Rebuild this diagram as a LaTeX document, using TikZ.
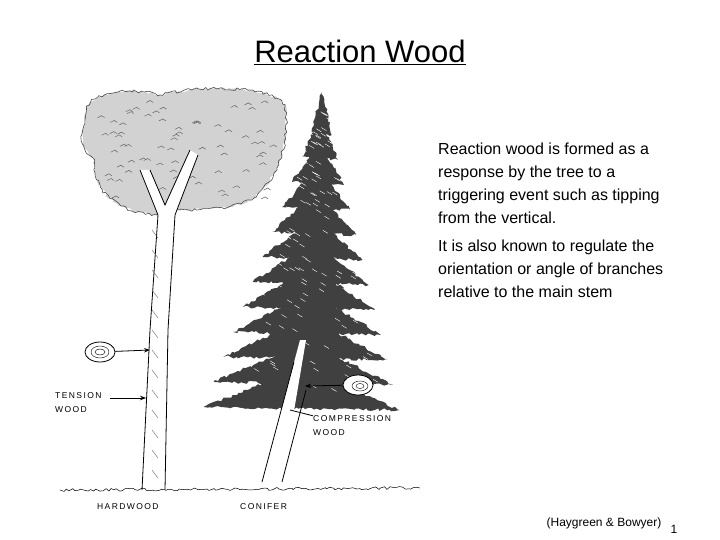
\documentclass[tikz,border=0pt]{standalone}
\usepackage{fontspec}
\setmainfont{Liberation Sans}
\usetikzlibrary{arrows.meta,shapes.geometric,decorations.pathmorphing}
\begin{document}
\begin{tikzpicture}[x=1pt,y=-1pt,
  body/.style={anchor=north west,font=\fontsize{16}{23}\selectfont,align=left,inner sep=0},
  lbl/.style={font=\fontsize{8.5}{14}\selectfont,align=left,inner sep=0,anchor=west},
  ring/.style={draw,fill=white,line width=0.8pt,ellipse,minimum width=30pt,minimum height=20pt},
  arr/.style={-{Stealth[length=6pt]},line width=0.8pt},
  rough/.style={decorate,decoration={random steps,segment length=3pt,amplitude=1.5pt}}]
\useasboundingbox (0,0) rectangle (720,540);
\node (title) at (360,52) {\fontsize{31}{34}\selectfont\underline{Reaction Wood}};
\node[body] (p1) at (438,143) {Reaction wood is formed as a\\response by the tree to a\\triggering event such as tipping\\from the vertical.};
\node[body] (p2) at (438,240) {It is also known to regulate the\\orientation or angle of branches\\relative to the main stem};
% hardwood canopy
\def\canopy{(85,120) .. controls (80,95) and (120,85) .. (160,95) .. controls (200,85) and (270,85) .. (285,105) .. controls (290,140) and (280,180) .. (250,200) .. controls (220,215) and (180,205) .. (160,215) .. controls (120,215) and (90,190) .. (95,160) .. controls (80,150) and (80,135) .. (85,120) -- cycle}
\fill[gray!35,rough] \canopy;
\draw[black!70,rough,line width=0.6pt] \canopy;
\foreach \i in {1,...,70}{\pgfmathsetmacro\xx{95+rnd*180}\pgfmathsetmacro\yy{100+rnd*100}
  \draw[black!60,line width=0.5pt] (\xx,\yy) -- ++(4,-2) -- ++(3,2);}
% hardwood trunk
\fill[white] (142,490) -- (150,330) -- (158,215) -- (140,170) -- (150,170) -- (165,205) -- (190,150) -- (198,155) -- (175,215) -- (168,330) -- (165,490) -- cycle;
\draw[line width=0.8pt] (142,490) -- (150,330) -- (158,215) -- (140,170);
\draw[line width=0.8pt] (165,490) -- (168,330) -- (175,215) -- (198,155);
\draw[line width=0.8pt] (150,170) -- (165,205) -- (190,150);
\foreach \yy in {230,250,...,470}{\draw[black!60] (152,\yy) -- ++(6,8);}
% conifer crown in tiers
\foreach \t/\w in {0/20,1/36,2/52,3/68,4/84,5/100,6/116,7/132,8/148,9/164,10/180,11/196}{
  \pgfmathsetmacro\ya{92+\t*25}\pgfmathsetmacro\yb{\ya+40}
  \pgfmathsetmacro\xc{322-\t*1.5}
  \fill[black!75,rough] (\xc,\ya) -- (\xc-\w*0.52,\yb) -- (\xc+\w*0.48,\yb+3) -- cycle;}
\foreach \i in {1,...,200}{\pgfmathsetmacro\yy{110+rnd*280}\pgfmathsetmacro\xx{322+(rnd-0.5)*(\yy-88)*0.9}
  \draw[white,line width=0.4pt] (\xx,\yy) -- ++(5,3);}
% conifer trunk
\fill[white] (262,482) -- (300,340) -- (306,340) -- (282,482) -- cycle;
\draw[line width=0.8pt] (262,482) -- (294,362);
\draw[line width=0.8pt] (282,482) -- (306,390);
% ground
\draw[rough,line width=0.5pt] (60,490) -- (420,488);
% rings
\node[ring] (r1) at (100,352) {};
\draw (100,352) ellipse (9pt and 6pt) ellipse (5pt and 3pt);
\node[ring] (r2) at (358,385) {};
\draw (360,386) ellipse (8pt and 5pt) ellipse (4pt and 2.5pt);
\coordinate (t1) at (150,350);
\coordinate (t2) at (305,386);
\draw[arr] (r1) -- (t1);
\draw[arr] (r2) -- (t2);
\node[lbl] (tw) at (55,403) {T\,E\,N\,S\,I\,O\,N\\W\,O\,O\,D};
\coordinate (tt) at (146,398);
\draw[arr] (110,398) -- (tt);
\node[lbl] (cw) at (313,426) {C\,O\,M\,P\,R\,E\,S\,S\,I\,O\,N\\W\,O\,O\,D};
\coordinate (ct) at (290,410);
\draw[line width=0.8pt] (cw.north west) -- (ct);
\node[lbl] (hw) at (97,507) {H\,A\,R\,D\,W\,O\,O\,D};
\node[lbl] (cf) at (240,507) {C\,O\,N\,I\,F\,E\,R};
\node[font=\fontsize{12}{14}\selectfont] (ref) at (604,523) {(Haygreen \& Bowyer)};
\node[font=\fontsize{12}{14}\selectfont] (pg) at (674,529) {1};
\end{tikzpicture}
\end{document}
